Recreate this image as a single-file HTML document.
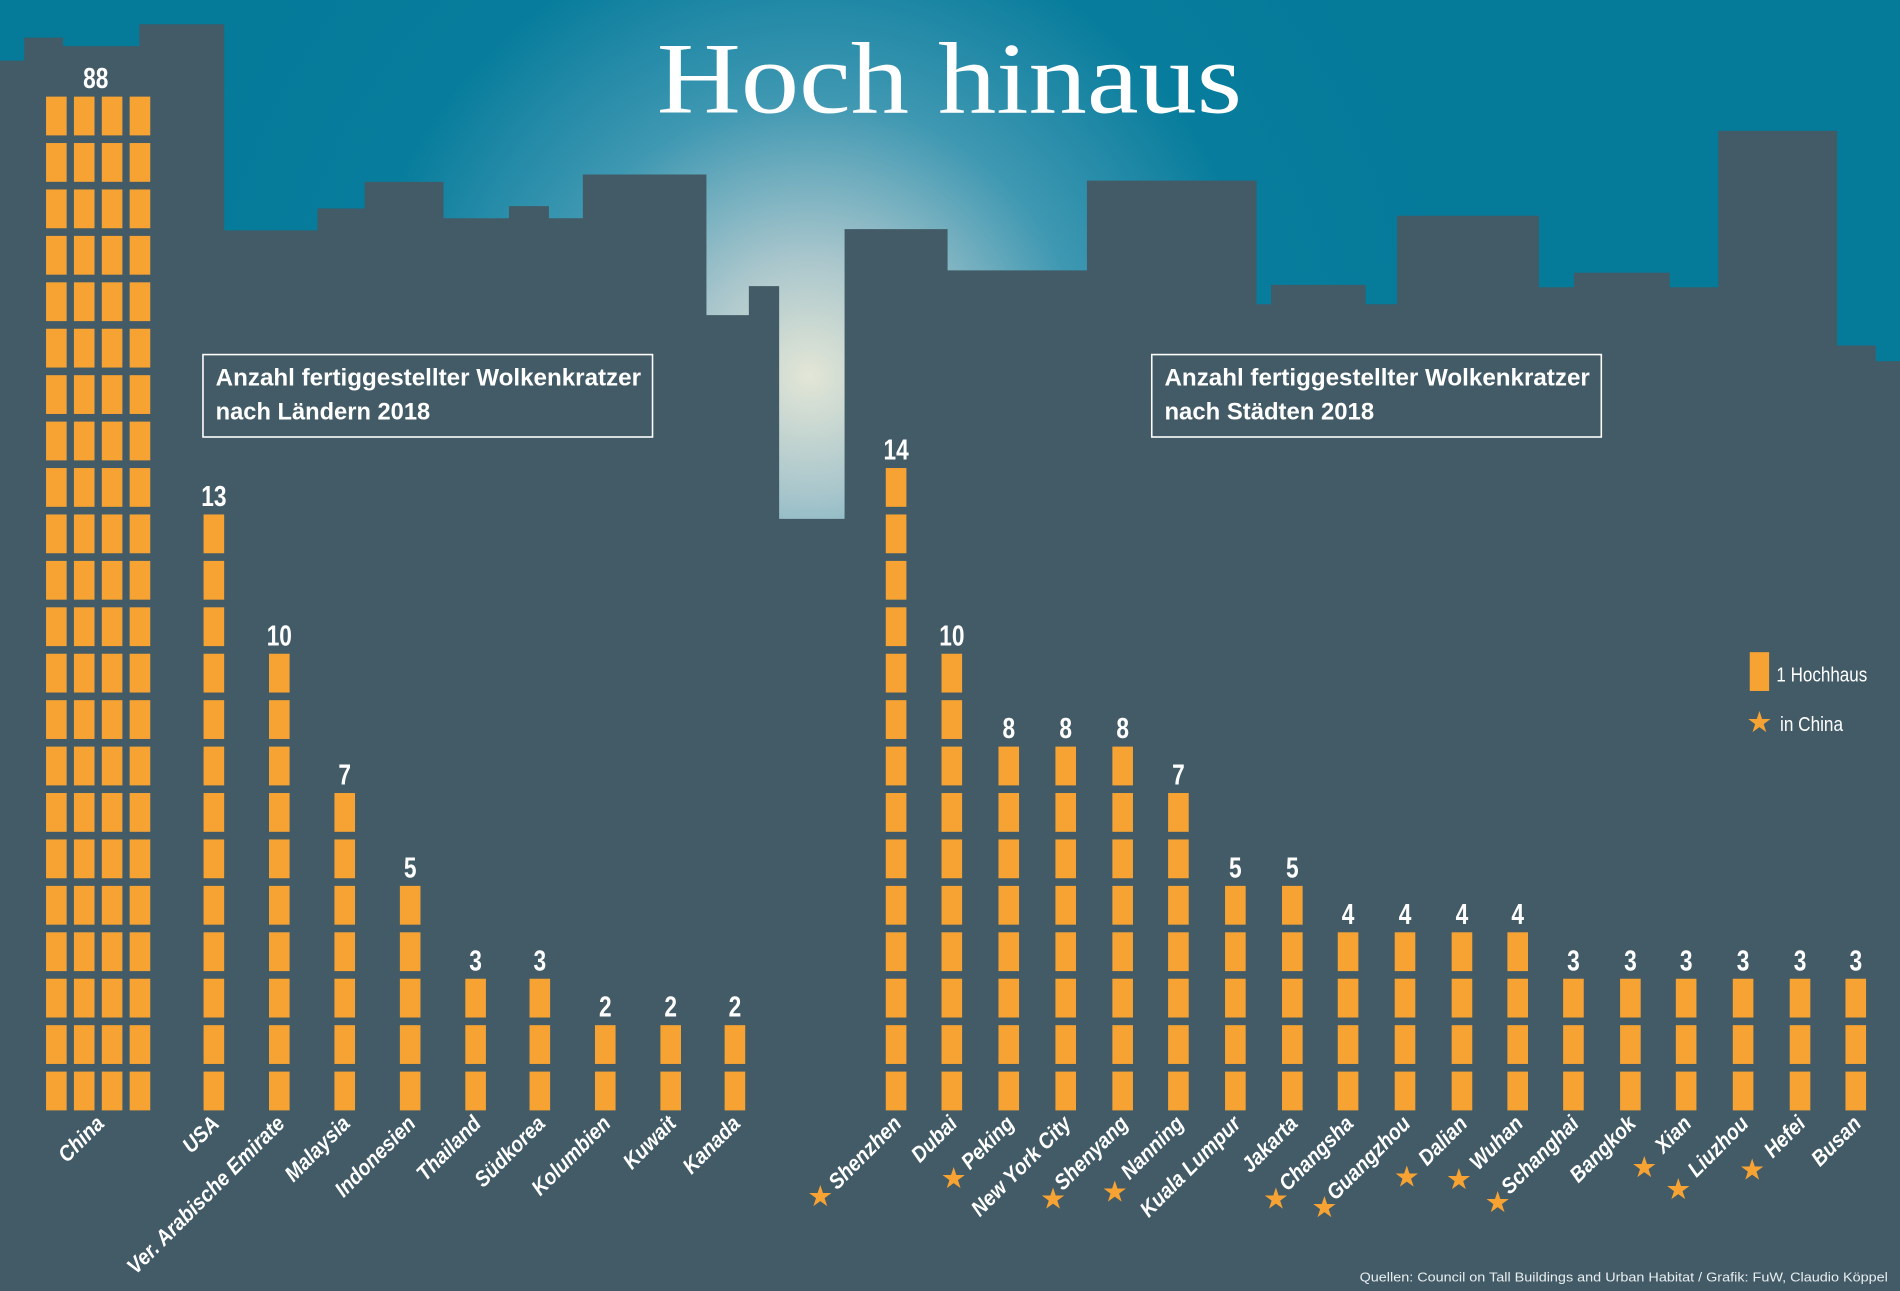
<!DOCTYPE html>
<html><head><meta charset="utf-8"><style>
html,body{margin:0;padding:0;background:#425b66;}
svg{display:block}
.n{font-family:"Liberation Sans",sans-serif;font-weight:bold;fill:#fff;font-size:24px;text-anchor:middle}
.l{font-family:"Liberation Sans",sans-serif;font-style:italic;font-weight:bold;fill:#fff;font-size:18px;text-anchor:end}
.s{font-family:"DejaVu Sans",sans-serif;fill:#f7a334;font-size:24px;text-anchor:middle}
</style></head><body>
<svg width="1900" height="1291" viewBox="0 0 1568 1065" preserveAspectRatio="none" xmlns="http://www.w3.org/2000/svg">
<defs>
<radialGradient id="sky" cx="668" cy="310" r="540" gradientUnits="userSpaceOnUse">
<stop offset="0" stop-color="#e3e6d6"/>
<stop offset="0.18" stop-color="#a9c6cc"/>
<stop offset="0.42" stop-color="#3f98b2"/>
<stop offset="0.7" stop-color="#077c9c"/>
<stop offset="1" stop-color="#067a99"/>
</radialGradient>
</defs>
<rect width="1568" height="1065" fill="url(#sky)"/>
<path fill="#425b66" d="M0 1065 L0 50 L20 50 L20 31 L52 31 L52 38 L115 38 L115 20 L185 20 L185 190 L262 190 L262 172 L301 172 L301 150 L366 150 L366 180 L420 180 L420 170 L453 170 L453 180 L481 180 L481 144 L583 144 L583 260 L618 260 L618 236 L643 236 L643 428 L697 428 L697 189 L782 189 L782 223 L897 223 L897 149 L1037 149 L1037 251 L1049 251 L1049 235 L1127 235 L1127 251 L1153 251 L1153 178 L1270 178 L1270 237 L1299 237 L1299 225 L1378 225 L1378 237 L1418 237 L1418 108 L1516 108 L1516 285 L1548 285 L1548 298 L1568 298 L1568 1065 Z"/>
<text x="542" y="93" textLength="483" lengthAdjust="spacingAndGlyphs" font-family="Liberation Serif,serif" font-size="84" fill="#fff">Hoch hinaus</text>
<rect x="167.5" y="292.5" width="371" height="68" fill="none" stroke="#fff" stroke-width="1.3"/>
<g font-family="Liberation Sans,sans-serif" font-weight="bold" font-size="20" fill="#fff">
<text x="178" y="318" textLength="351" lengthAdjust="spacingAndGlyphs">Anzahl fertiggestellter Wolkenkratzer</text>
<text x="178" y="346" textLength="177" lengthAdjust="spacingAndGlyphs">nach Ländern 2018</text>
</g>
<rect x="950.5" y="292.5" width="371" height="68" fill="none" stroke="#fff" stroke-width="1.3"/>
<g font-family="Liberation Sans,sans-serif" font-weight="bold" font-size="20" fill="#fff">
<text x="961" y="318" textLength="351" lengthAdjust="spacingAndGlyphs">Anzahl fertiggestellter Wolkenkratzer</text>
<text x="961" y="346" textLength="173" lengthAdjust="spacingAndGlyphs">nach Städten 2018</text>
</g>
<g id="bars"></g>
<rect x="1444" y="538" width="16" height="32" fill="#f7a334"/>
<text x="1466" y="562" textLength="75" lengthAdjust="spacingAndGlyphs" font-family="Liberation Sans,sans-serif" font-size="17" fill="#fff">1 Hochhaus</text>
<text x="1452" y="604" class="s">★</text>
<text x="1469" y="603" textLength="52" lengthAdjust="spacingAndGlyphs" font-family="Liberation Sans,sans-serif" font-size="17" fill="#fff">in China</text>
<text x="1122" y="1057" textLength="436" lengthAdjust="spacingAndGlyphs" font-family="Liberation Sans,sans-serif" font-size="11" fill="#e8eef0">Quellen: Council on Tall Buildings and Urban Habitat / Grafik: FuW, Claudio Köppel</text>
<g id="labels"></g>
</svg>
<script>
var NS="http://www.w3.org/2000/svg";
var g=document.getElementById("bars"),lg=document.getElementById("labels");
function el(p,t,a,txt){var e=document.createElementNS(NS,t);for(var k in a)e.setAttribute(k,a[k]);if(txt)e.textContent=txt;p.appendChild(e);return e;}
var data=[
[[38,61,84,107],22,"88","China",79],
[[168],13,"13","USA"],[[222],10,"10","Ver. Arabische Emirate"],[[276],7,"7","Malaysia"],
[[330],5,"5","Indonesien"],[[384],3,"3","Thailand"],[[437],3,"3","Südkorea"],
[[491],2,"2","Kolumbien"],[[545],2,"2","Kuwait"],[[598],2,"2","Kanada"],
[[731],14,"14","Shenzhen"],[[777],10,"10","Dubai"],[[824],8,"8","Peking"],[[871],8,"8","New York City"],
[[918],8,"8","Shenyang"],[[964],7,"7","Nanning"],[[1011],5,"5","Kuala Lumpur"],[[1058],5,"5","Jakarta"],
[[1104],4,"4","Changsha"],[[1151],4,"4","Guangzhou"],[[1198],4,"4","Dalian"],[[1244],4,"4","Wuhan"],
[[1290],3,"3","Schanghai"],[[1337],3,"3","Bangkok"],[[1383],3,"3","Xian"],[[1430],3,"3","Liuzhou"],
[[1477],3,"3","Hefei"],[[1523],3,"3","Busan"]];
data.forEach(function(d){
 var xs=d[0],n=d[1];
 xs.forEach(function(x){for(var i=0;i<n;i++){el(g,"rect",{x:x,y:884-38.3*i,width:17,height:32,fill:"#f7a334"});}});
 var cx=d[4]||xs[0]+8.5, top=884-38.3*(n-1);
 el(g,"text",{x:0,y:0,"class":"n",transform:"translate("+cx+" "+(top-7)+") scale(0.78 1)"},d[2]);
 var ax=(xs.length>1?cx+8:xs[0]+14), ay=928;
 el(lg,"text",{x:0,y:0,"class":"l",transform:"translate("+ax+" "+ay+") rotate(-45) scale(0.9 1)"},d[3]);
});
[[677,995],[787,980],[869,997],[920,991],[1053,997],[1093,1004],[1161,979],[1204,981],[1236,1000],[1357,971],[1385,989],[1446,973]].forEach(function(p){
 el(lg,"text",{x:p[0],y:p[1],"class":"s"},"★");
});
</script>
</body></html>
